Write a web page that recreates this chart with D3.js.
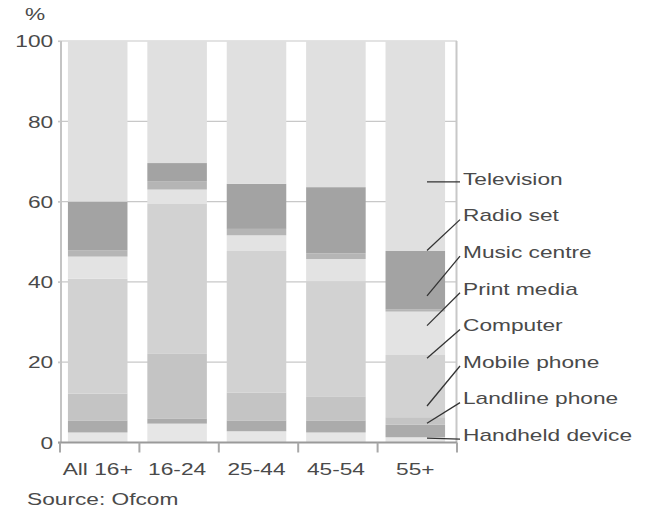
<!DOCTYPE html>
<html>
<head>
<meta charset="utf-8">
<script src="https://cdn.jsdelivr.net/npm/d3@7"></script>
<style>
  body { margin: 0; background: #fff; }
  text { font-family: "Liberation Sans", Arial, sans-serif; font-size: 16px; fill: #4a4a4a; }
</style>
</head>
<body>
<svg id="chart"></svg>
<script>
// data, % of people, stacked bottom -> top
const categories = ["All 16+", "16-24", "25-44", "45-54", "55+"];
const seriesNames = ["Handheld device", "Landline phone", "Mobile phone", "Computer",
  "Print media", "Music centre", "Radio set", "Television"];

const handheld    = [2.5, 4.7, 2.8, 2.5, 1.3];
const landline    = [3.0, 1.3, 2.7, 3.0, 3.1];
const mobile      = [6.7, 16.2, 6.9, 6.0, 1.9];
const computer    = [28.6, 37.2, 35.3, 28.7, 15.5];
const printMedia  = [5.5, 3.6, 3.9, 5.5, 10.8];
const musicCentre = [1.5, 2.1, 1.6, 1.4, 0.6];
const radioSet    = [12.2, 4.5, 11.2, 16.5, 14.5];
const television  = [40.0, 30.4, 35.6, 36.4, 52.3];

const yTicks = [0, 20, 40, 60, 80, 100];
// where each leader line points to inside the 55+ bar (value in %)
const labelAnchors = [1.1, 4.8, 9.1, 21.0, 29.1, 36.5, 47.8, 64.9];

const colors = ["#e6e6e6", "#ababab", "#c4c4c4", "#d2d2d2", "#e3e3e3", "#b5b5b5", "#a3a3a3", "#e0e0e0"];

let width = 647;
let height = 510;
let sx = 1.42; // text in the original is stretched sideways

let svg = d3.select("#chart")
  .attr("width", width)
  .attr("height", height);

let allSeries = [handheld, landline, mobile, computer, printMedia, musicCentre, radioSet, television];
let table = categories.map((c, i) => {
  let row = { cat: c };
  seriesNames.forEach((s, j) => row[s] = allSeries[j][i]);
  return row;
});
let stacked = d3.stack().keys(seriesNames)(table);

let x = d3.scaleBand()
  .domain(categories)
  .range([60, 457])
  .paddingInner(0.25)
  .paddingOuter(0.125);

let y = d3.scaleLinear()
  .domain([0, 100])
  .range([442.5, 41]);

// gridlines (behind bars)
svg.append("g")
  .selectAll("line")
  .data(yTicks.filter(d => d > 0))
  .enter()
  .append("line")
    .attr("x1", 58)
    .attr("x2", 457)
    .attr("y1", d => y(d))
    .attr("y2", d => y(d))
    .attr("stroke", "#c8c8c8")
    .attr("stroke-width", 1.2);

// left and right frame lines
svg.append("line")
  .attr("x1", 61).attr("x2", 61)
  .attr("y1", y(100)).attr("y2", y(0))
  .attr("stroke", "#c4c4c4").attr("stroke-width", 2);
svg.append("line")
  .attr("x1", 456.5).attr("x2", 456.5)
  .attr("y1", y(100)).attr("y2", y(0))
  .attr("stroke", "#c8c8c8").attr("stroke-width", 2);

// stacked bars
svg.append("g")
  .selectAll("g")
  .data(stacked)
  .enter()
  .append("g")
    .attr("fill", (d, i) => colors[i])
  .selectAll("rect")
  .data(d => d)
  .enter()
  .append("rect")
    .attr("x", d => x(d.data.cat) - 2)
    .attr("width", x.bandwidth())
    .attr("y", d => y(d[1]))
    .attr("height", d => y(d[0]) - y(d[1]));

// y axis labels
let yAxis = svg.append("g")
  .attr("transform", "translate(61,0)")
  .call(d3.axisLeft(y).tickValues(yTicks).tickSize(3));
yAxis.select(".domain").remove();
yAxis.selectAll(".tick line").attr("stroke", "#c8c8c8").attr("stroke-width", 1.2);
yAxis.selectAll(".tick text")
  .attr("x", -5.5)
  .attr("dy", "0.36em")
  .attr("transform", `scale(${sx},1)`)
  .attr("font-family", null)
  .attr("font-size", null)
  .style("fill", "#4a4a4a");

// x axis
let xAxis = svg.append("g")
  .attr("transform", `translate(0,${y(0)})`)
  .call(d3.axisBottom(x).tickSize(0));
xAxis.select(".domain").remove();
xAxis.selectAll(".tick text")
  .attr("y", 0)
  .attr("dy", 0)
  .attr("transform", `translate(-2,32.5) scale(${sx},1)`)
  .attr("font-family", null)
  .attr("font-size", null)
  .style("fill", "#4a4a4a");

svg.append("line")
  .attr("x1", 58).attr("x2", 457)
  .attr("y1", y(0)).attr("y2", y(0))
  .attr("stroke", "#9a9a9a").attr("stroke-width", 2);

// tick marks sit between the bars
let half = x.step() * x.paddingInner() / 2;
let boundaries = categories.map(c => x(c) - half).concat([x(categories[4]) + x.bandwidth() + half]);
svg.append("g")
  .selectAll("line")
  .data(boundaries)
  .enter()
  .append("line")
    .attr("x1", d => d).attr("x2", d => d)
    .attr("y1", y(0)).attr("y2", y(0) + 10)
    .attr("stroke", "#a8a8a8").attr("stroke-width", 2);

// labels with leader lines
let rowTop = 179;
let rowStep = 36.6;
let labelData = seriesNames.map((s, i) => ({
  name: s,
  anchor: labelAnchors[i],
  ly: rowTop + (seriesNames.length - 1 - i) * rowStep
}));

svg.append("g")
  .selectAll("line")
  .data(labelData)
  .enter()
  .append("line")
    .attr("x1", 427)
    .attr("y1", d => y(d.anchor))
    .attr("x2", 460)
    .attr("y2", d => d.name === "Television" ? y(d.anchor) : d.ly + 4)
    .attr("stroke", "#333")
    .attr("stroke-width", 1.3);

svg.append("g")
  .selectAll("text")
  .data(labelData)
  .enter()
  .append("text")
    .attr("transform", d => `translate(463,${d.ly}) scale(${sx},1)`)
    .attr("dy", "0.36em")
    .text(d => d.name);

svg.append("text")
  .attr("transform", `translate(25,19.5) scale(${sx},1)`)
  .text("%");

svg.append("text")
  .attr("transform", `translate(27,505) scale(${sx},1)`)
  .text("Source: Ofcom");
</script>
</body>
</html>
